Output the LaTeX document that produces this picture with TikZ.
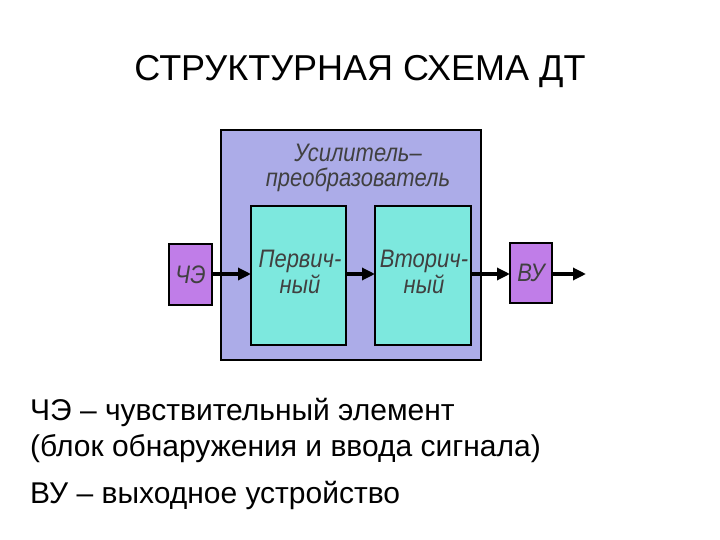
\documentclass[tikz,border=0pt]{standalone}
\usepackage{fontspec}
\setmainfont{Liberation Sans}
\usetikzlibrary{arrows.meta}
\definecolor{lav}{RGB}{172,172,232}
\definecolor{cy}{RGB}{125,232,222}
\definecolor{pu}{RGB}{192,125,232}
\tikzset{blk/.style={draw=black,line width=1.4pt},
 lbl/.style={font=\itshape\fontsize{22}{26}\selectfont,text=black!75,align=center,yscale=1.15},
 arr/.style={line width=3.2pt,-{Triangle[length=13pt,width=12pt]}}}
\begin{document}
\begin{tikzpicture}[x=1pt,y=-1pt]
\useasboundingbox[fill=white] (0,0) rectangle (720,540);
\node[font=\fontsize{36}{42}\selectfont] (title) at (360,72) {СТРУКТУРНАЯ СХЕМА ДТ};
\draw[blk,fill=lav] (221,130) rectangle (481,360);
\node[lbl] (ul) at (358,168) {Усилитель–\\[-4pt]преобразователь};
\draw[blk,fill=cy] (251,206) rectangle (346,345);
\node[lbl] (p) at (300,272) {Первич-\\[-4pt]ный};
\draw[blk,fill=cy] (375,206) rectangle (471,345);
\node[lbl] (v) at (424,272) {Вторич-\\[-4pt]ный};
\draw[blk,fill=pu] (169,244) rectangle (212,305);
\node[lbl] (ch) at (190.5,274.5) {ЧЭ};
\draw[blk,fill=pu] (510,243) rectangle (552,303);
\node[lbl] (vu) at (531,273) {ВУ};
\coordinate (a1) at (212,274); \coordinate (a2) at (251,274);
\coordinate (b1) at (346,274); \coordinate (b2) at (375,274);
\coordinate (c1) at (471,274); \coordinate (c2) at (510,274);
\coordinate (d1) at (552,274); \coordinate (d2) at (586,274);
\draw[arr] (a1) -- (a2);
\draw[arr] (b1) -- (b2);
\draw[arr] (c1) -- (c2);
\draw[arr] (d1) -- (d2);
\node[font=\fontsize{30}{36}\selectfont,anchor=north west,align=left,inner sep=0pt] (t1) at (30,398) {ЧЭ – чувствительный элемент\\(блок обнаружения и ввода сигнала)};
\node[font=\fontsize{30}{36}\selectfont,anchor=north west,inner sep=0pt] (t2) at (30,481) {ВУ – выходное устройство};
\end{tikzpicture}
\end{document}
